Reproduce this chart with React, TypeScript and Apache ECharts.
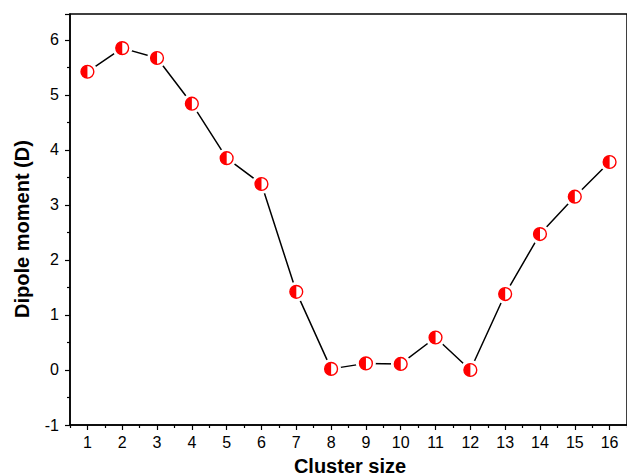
import React, { useEffect, useRef } from "react";
import * as echarts from "echarts";

const clusterSizes = ["1", "2", "3", "4", "5", "6", "7", "8", "9", "10", "11", "12", "13", "14", "15", "16"];
const dipoleMoments = [5.42, 5.85, 5.67, 4.84, 3.85, 3.38, 1.42, 0.02, 0.12, 0.11, 0.59, 0.0, 1.38, 2.47, 3.15, 3.78];
const xTitle = "Cluster size";
const yTitle = "Dipole moment (D)";

const markerSvg =
  '<svg xmlns="http://www.w3.org/2000/svg" width="20" height="20" viewBox="0 0 20 20">' +
  '<circle cx="10" cy="10" r="10" fill="#ffffff"/>' +
  '<circle cx="10" cy="10" r="6.4" fill="#ffffff" stroke="#ff0000" stroke-width="1.4"/>' +
  '<path d="M10 3.6 A6.4 6.4 0 0 0 10 16.4 Z" fill="#ff0000"/>' +
  "</svg>";
const markerSymbol = "image://data:image/svg+xml;charset=utf-8," + encodeURIComponent(markerSvg);

const FONT = "'Liberation Sans', Arial, sans-serif";

export default function App() {
  const ref = useRef<HTMLDivElement>(null);
  useEffect(() => {
    if (!ref.current) return;
    const chart = echarts.init(ref.current, undefined, { renderer: "svg" });
    chart.setOption({
      animation: false,
      backgroundColor: "#ffffff",
      grid: {
        left: 70,
        right: -2.5,
        top: 14,
        bottom: 51,
        show: true,
        borderColor: "#000",
        borderWidth: 1.5,
        backgroundColor: "transparent",
      },
      graphic: [
        {
          type: "text",
          x: 350,
          y: 466,
          style: {
            text: xTitle,
            fontFamily: FONT,
            fontSize: 20,
            fontWeight: "bold",
            fill: "#000",
            textAlign: "center",
            textVerticalAlign: "middle",
          },
        },
        {
          type: "text",
          x: 22,
          y: 229,
          rotation: Math.PI / 2,
          style: {
            text: yTitle,
            fontFamily: FONT,
            fontSize: 20,
            fontWeight: "bold",
            fill: "#000",
            textAlign: "center",
            textVerticalAlign: "middle",
          },
        },
      ],
      xAxis: [
        {
          type: "category",
          data: clusterSizes,
          boundaryGap: true,
          axisLine: { show: true, onZero: false, lineStyle: { color: "#000", width: 1.5 } },
          axisTick: { show: true, alignWithLabel: true, interval: 0, length: 5, lineStyle: { color: "#000", width: 1.2 } },
          axisLabel: { interval: 0, margin: 9, fontFamily: FONT, fontSize: 16, color: "#000" },
          splitLine: { show: false },
        },
        {
          type: "category",
          data: clusterSizes,
          position: "bottom",
          boundaryGap: true,
          axisLine: { show: false, onZero: false },
          axisTick: { show: true, alignWithLabel: false, interval: 0, length: 3, lineStyle: { color: "#000", width: 1.2 } },
          axisLabel: { show: false },
          splitLine: { show: false },
        },
      ],
      yAxis: {
        type: "value",
        min: -1,
        max: 6.47,
        interval: 1,
        axisLine: { show: true, onZero: false, lineStyle: { color: "#000", width: 1.5 } },
        axisTick: { show: true, length: 5, lineStyle: { color: "#000", width: 1.2 } },
        minorTick: { show: true, splitNumber: 2, length: 3, lineStyle: { color: "#000", width: 1.2 } },
        axisLabel: { margin: 11, fontFamily: FONT, fontSize: 16, color: "#000", showMaxLabel: false },
        splitLine: { show: false },
        minorSplitLine: { show: false },
      },
      series: [
        {
          type: "line",
          xAxisIndex: 0,
          data: dipoleMoments,
          symbol: markerSymbol,
          symbolSize: 20,
          showAllSymbol: true,
          lineStyle: { color: "#000", width: 1.5 },
          itemStyle: { color: "#ff0000" },
          emphasis: { disabled: true },
        },
      ],
    });
    return () => chart.dispose();
  }, []);
  return <div ref={ref} style={{ position: "fixed", left: 0, top: 0, width: 627, height: 476 }} />;
}
